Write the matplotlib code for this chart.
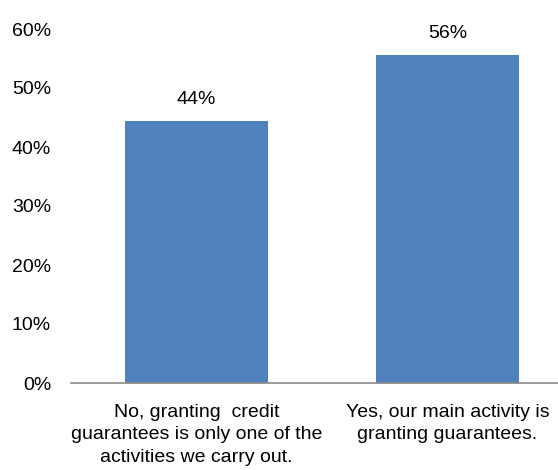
import matplotlib
matplotlib.use("Agg")
import matplotlib.pyplot as plt
from matplotlib.ticker import FuncFormatter

plt.rcParams["font.family"] = ["Liberation Sans", "DejaVu Sans"]

# data
categories = [
    "No, granting  credit\nguarantees is only one of the\nactivities we carry out.",
    "Yes, our main activity is\ngranting guarantees.",
]
shares = [44.4, 55.6]
value_labels = ["44%", "56%"]
y_ticks = [0, 10, 20, 30, 40, 50, 60]

bar_color = "#4F81BD"
fs = 14

fig = plt.figure(figsize=(5.58, 4.70), dpi=100)
ax = fig.add_axes([71 / 558, 87 / 470, 487 / 558, (383 - 29) / 470])

x = list(range(len(categories)))
ax.bar(x, shares, width=0.57, color=bar_color, zorder=2)

for xi, v, lab in zip(x, shares, value_labels):
    ax.text(xi, v + 2.2, lab, ha="center", va="bottom", fontsize=fs, color="#000000")

ax.set_xlim(-0.5, 1.44)
ax.set_ylim(0, 60)
ax.set_yticks(y_ticks)
ax.yaxis.set_major_formatter(FuncFormatter(lambda v, p: f"{v:.0f}%"))
ax.set_xticks(x)
ax.set_xticklabels(categories, fontsize=fs, linespacing=1.42)

ax.tick_params(axis="y", length=0, pad=14.4, labelsize=fs)
ax.tick_params(axis="x", length=0, pad=15)

for s in ["top", "right", "left"]:
    ax.spines[s].set_visible(False)
ax.spines["bottom"].set_color("#888888")
ax.spines["bottom"].set_linewidth(1.2)

fig.savefig("out.png", dpi=100)
